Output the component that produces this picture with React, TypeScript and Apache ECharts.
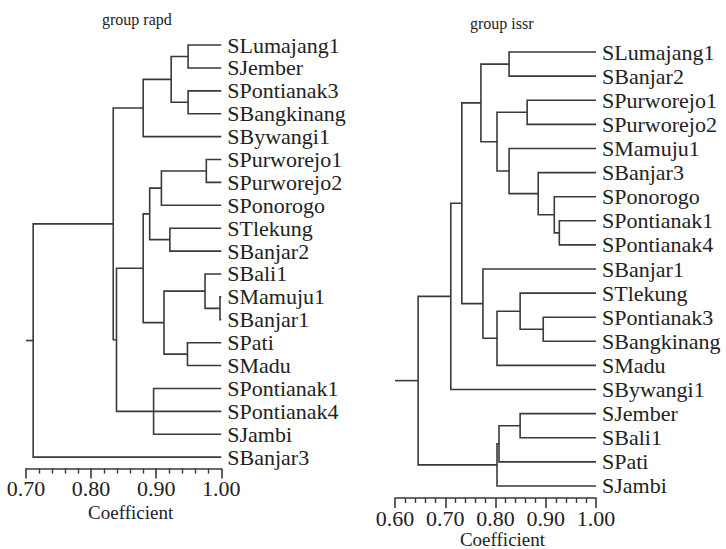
import React, { useEffect, useRef } from "react";
import * as echarts from "echarts";

const rapdLeaves = [
  "SLumajang1", "SJember", "SPontianak3", "SBangkinang", "SBywangi1",
  "SPurworejo1", "SPurworejo2", "SPonorogo", "STlekung", "SBanjar2",
  "SBali1", "SMamuju1", "SBanjar1", "SPati", "SMadu",
  "SPontianak1", "SPontianak4", "SJambi", "SBanjar3",
];

// [node id, children, coefficient at which they join]
const rapdNodes: [string, string[], number][] = [
  ["a1", ["SLumajang1", "SJember"], 0.949],
  ["a2", ["SPontianak3", "SBangkinang"], 0.949],
  ["a3", ["a1", "a2"], 0.923],
  ["a4", ["a3", "SBywangi1"], 0.88],
  ["a5", ["SPurworejo1", "SPurworejo2"], 0.977],
  ["a6", ["a5", "SPonorogo"], 0.908],
  ["a7", ["STlekung", "SBanjar2"], 0.921],
  ["a8", ["a6", "a7"], 0.89],
  ["a9", ["SMamuju1", "SBanjar1"], 0.998],
  ["a10", ["SBali1", "a9"], 0.975],
  ["a11", ["SPati", "SMadu"], 0.948],
  ["a12", ["a10", "a11"], 0.912],
  ["a13", ["a8", "a12"], 0.88],
  ["a14", ["SPontianak1", "SPontianak4", "SJambi"], 0.896],
  ["a15", ["a13", "a14"], 0.839],
  ["a16", ["a4", "a15"], 0.834],
  ["a17", ["a16", "SBanjar3"], 0.711],
];

const issrLeaves = [
  "SLumajang1", "SBanjar2", "SPurworejo1", "SPurworejo2", "SMamuju1",
  "SBanjar3", "SPonorogo", "SPontianak1", "SPontianak4", "SBanjar1",
  "STlekung", "SPontianak3", "SBangkinang", "SMadu", "SBywangi1",
  "SJember", "SBali1", "SPati", "SJambi",
];

const issrNodes: [string, string[], number][] = [
  ["b1", ["SLumajang1", "SBanjar2"], 0.827],
  ["b2", ["SPurworejo1", "SPurworejo2"], 0.863],
  ["b3", ["SPontianak1", "SPontianak4"], 0.927],
  ["b4", ["SPonorogo", "b3"], 0.917],
  ["b5", ["SBanjar3", "b4"], 0.885],
  ["b6", ["SMamuju1", "b5"], 0.827],
  ["b7", ["b2", "b6"], 0.803],
  ["b8", ["b1", "b7"], 0.771],
  ["b9", ["SPontianak3", "SBangkinang"], 0.895],
  ["b10", ["STlekung", "b9"], 0.849],
  ["b11", ["b10", "SMadu"], 0.803],
  ["b12", ["SBanjar1", "b11"], 0.775],
  ["b13", ["b8", "b12"], 0.733],
  ["b14", ["b13", "SBywangi1"], 0.711],
  ["b15", ["SJember", "SBali1"], 0.849],
  ["b16", ["b15", "SPati"], 0.807],
  ["b17", ["b16", "SJambi"], 0.803],
  ["b18", ["b14", "b17"], 0.646],
];

const rapdTicks = [0.7, 1.0];
const issrTicks = [0.6, 1.0];
const titles = ["group rapd", "group issr"];
const axisName = "Coefficient";

const FONT = "'Liberation Serif', 'Times New Roman', serif";
const INK = "#222";
const LINE = "#3a3a3a";

type Built = { x: number; y: number; kids: { x: number; y: number }[]; root: boolean };

function build(leaves: string[], nodes: [string, string[], number][]): Built[] {
  const pos: Record<string, { x: number; y: number }> = {};
  leaves.forEach((n, i) => (pos[n] = { x: 1, y: i }));
  const out: Built[] = [];
  nodes.forEach(([id, children, coef], k) => {
    const kids = children.map((c) => pos[c]);
    const ys = kids.map((c) => c.y);
    const y = (Math.min(...ys) + Math.max(...ys)) / 2;
    pos[id] = { x: coef, y };
    out.push({ x: coef, y, kids, root: k === nodes.length - 1 });
  });
  return out;
}

function treeSeries(built: Built[], xMin: number, idx: number) {
  return {
    type: "custom",
    xAxisIndex: idx,
    yAxisIndex: idx * 2,
    silent: true,
    data: built.map((b) => [b.x, b.y]),
    renderItem: (params: any, api: any) => {
      const b = built[params.dataIndex];
      const style = { stroke: LINE, lineWidth: 1.6, fill: "none" };
      const first = b.kids[0];
      const last = b.kids[b.kids.length - 1];
      const children: any[] = [
        {
          type: "polyline",
          shape: {
            points: [
              api.coord([first.x, first.y]),
              api.coord([b.x, first.y]),
              api.coord([b.x, last.y]),
              api.coord([last.x, last.y]),
            ],
          },
          style,
        },
      ];
      b.kids.slice(1, -1).forEach((c) => {
        const p1 = api.coord([b.x, c.y]);
        const p2 = api.coord([c.x, c.y]);
        children.push({ type: "line", shape: { x1: p1[0], y1: p1[1], x2: p2[0], y2: p2[1] }, style });
      });
      if (b.root) {
        const p1 = api.coord([xMin, b.y]);
        const p2 = api.coord([b.x, b.y]);
        children.push({ type: "line", shape: { x1: p1[0], y1: p1[1], x2: p2[0], y2: p2[1] }, style });
      }
      return { type: "group", children };
    },
  };
}

function xAxis(ticks: number[], gridIndex: number, nameGap: number) {
  return {
    type: "value",
    gridIndex,
    min: ticks[0],
    max: ticks[1],
    interval: 0.1,
    position: "bottom",
    axisLine: { show: true, onZero: false, lineStyle: { color: LINE, width: 1.6 } },
    axisTick: { show: true, length: 10, lineStyle: { color: LINE, width: 1.6 } },
    minorTick: { show: true, splitNumber: 5, length: 5, lineStyle: { color: LINE, width: 1.4 } },
    splitLine: { show: false },
    minorSplitLine: { show: false },
    axisLabel: {
      formatter: (v: number) => v.toFixed(2),
      fontSize: 22,
      lineHeight: 20,
      fontFamily: FONT,
      color: INK,
      margin: 10,
    },
    name: axisName,
    nameLocation: "middle",
    nameGap,
    nameMoveOverlap: false,
    nameTextStyle: { fontSize: 19, lineHeight: 18, fontFamily: FONT, color: INK, padding: [0, 0, 0, 14] },
  };
}

function yAxes(leaves: string[], gridIndex: number) {
  return [
    {
      type: "value",
      gridIndex,
      min: -0.5,
      max: leaves.length - 0.5,
      inverse: true,
      show: false,
    },
    {
      type: "category",
      gridIndex,
      data: leaves,
      inverse: true,
      position: "right",
      axisLine: { show: false, onZero: false },
      axisTick: { show: false },
      splitLine: { show: false },
      axisLabel: { interval: 0, fontSize: 22, fontFamily: FONT, color: INK, margin: 6 },
    },
  ];
}

export default function App() {
  const ref = useRef<HTMLDivElement>(null);
  useEffect(() => {
    if (!ref.current) return;
    const chart = echarts.init(ref.current, undefined, { renderer: "svg" });
    const rapd = build(rapdLeaves, rapdNodes);
    const issr = build(issrLeaves, issrNodes);
    chart.setOption({
      animation: false,
      backgroundColor: "#fff",
      title: [
        { text: titles[0], left: 97, top: 6, textStyle: { fontSize: 16, fontWeight: "normal", fontFamily: FONT, color: INK } },
        { text: titles[1], left: 465, top: 10, textStyle: { fontSize: 16, fontWeight: "normal", fontFamily: FONT, color: INK } },
      ],
      grid: [
        { left: 26, top: 33.6, width: 195.3, height: 435, outerBoundsMode: "none", containLabel: false },
        { left: 395, top: 40, width: 201, height: 458, outerBoundsMode: "none", containLabel: false },
      ],
      xAxis: [xAxis(rapdTicks, 0, 35), xAxis(issrTicks, 1, 32)],
      yAxis: [...yAxes(rapdLeaves, 0), ...yAxes(issrLeaves, 1)],
      series: [treeSeries(rapd, rapdTicks[0], 0), treeSeries(issr, issrTicks[0], 1)],
    });
    return () => chart.dispose();
  }, []);
  return (
    <div
      ref={ref}
      style={{ position: "fixed", left: 0, top: 0, width: 726, height: 549 }}
    />
  );
}
